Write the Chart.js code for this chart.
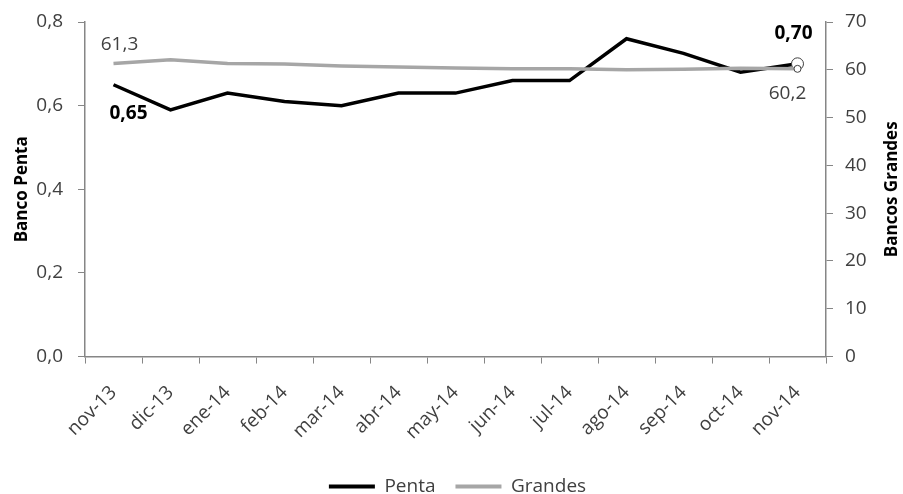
<!DOCTYPE html>
<html>
<head>
<meta charset="utf-8">
<script src="https://cdn.jsdelivr.net/npm/chart.js@4.4.1/dist/chart.umd.min.js"></script>
<style>
  html, body { margin: 0; padding: 0; background: #fff; }
  #wrap { width: 903px; height: 494px; }
</style>
</head>
<body>
<div id="wrap"><canvas id="chart" width="903" height="494"></canvas></div>
<script>
// Categories (months)
const months = ["nov-13", "dic-13", "ene-14", "feb-14", "mar-14", "abr-14", "may-14",
  "jun-14", "jul-14", "ago-14", "sep-14", "oct-14", "nov-14"];

// Banco Penta (left axis)
const penta = [0.65, 0.59, 0.63, 0.61, 0.60, 0.63, 0.63, 0.66, 0.66, 0.76, 0.725, 0.68, 0.70];

// Bancos Grandes (right axis)
const grandes = [61.3, 62.1, 61.3, 61.2, 60.8, 60.6, 60.4, 60.2, 60.2, 60.0, 60.1, 60.3, 60.2];

const leftTicks = [0, 0.2, 0.4, 0.6, 0.8];
const rightTicks = [0, 10, 20, 30, 40, 50, 60, 70];

const FONT = "'Open Sans', sans-serif";
const TXT = "#404040";
const AXIS = "#868686";

const last = months.length - 1;
const comma = (v, d) => v.toFixed(d).replace(".", ",");

// end markers only on the last month
const pentaRadius = penta.map((_, i) => (i === last ? 6 : 0));
const grandesRadius = grandes.map((_, i) => (i === last ? 3.5 : 0));

// value labels on first and last point of each line
const valueLabels = {
  id: "valueLabels",
  afterDatasetsDraw(chart) {
    const ctx = chart.ctx;
    const p = chart.getDatasetMeta(0).data;
    const g = chart.getDatasetMeta(1).data;
    ctx.save();
    ctx.textAlign = "center";
    ctx.textBaseline = "middle";
    ctx.font = "bold 19px " + FONT;
    ctx.fillStyle = "#000";
    ctx.fillText(comma(penta[0], 2), p[0].x + 15, p[0].y + 29);
    ctx.fillText(comma(penta[last], 2), p[last].x - 4, p[last].y - 30);
    ctx.font = "19px " + FONT;
    ctx.fillStyle = TXT;
    ctx.fillText(comma(grandes[0], 1), g[0].x + 6, g[0].y - 19);
    ctx.fillText(comma(grandes[last], 1), g[last].x - 10, g[last].y + 25);

    // right axis title, reading bottom to top like the left one
    const y2 = chart.scales.y2;
    ctx.font = "bold 17px " + FONT;
    ctx.fillStyle = "#000";
    ctx.translate(892, (y2.top + y2.bottom) / 2);
    ctx.rotate(-Math.PI / 2);
    ctx.fillText("Bancos Grandes", 0, 0);
    ctx.restore();
  }
};

new Chart(document.getElementById("chart"), {
  type: "line",
  data: {
    labels: months,
    datasets: [
      {
        label: "Penta",
        data: penta,
        yAxisID: "y",
        borderColor: "#000",
        backgroundColor: "#000",
        borderWidth: 3.5,
        tension: 0,
        pointRadius: pentaRadius,
        pointBackgroundColor: "#fff",
        pointBorderColor: "#404040",
        pointBorderWidth: 1,
        order: 1
      },
      {
        label: "Grandes",
        data: grandes,
        yAxisID: "y2",
        borderColor: "#a6a6a6",
        backgroundColor: "#a6a6a6",
        borderWidth: 3.5,
        tension: 0,
        pointRadius: grandesRadius,
        pointBackgroundColor: "#fff",
        pointBorderColor: "#404040",
        pointBorderWidth: 1,
        order: 0
      }
    ]
  },
  options: {
    responsive: false,
    animation: false,
    layout: { padding: { left: 12, right: 0, top: 22, bottom: -12 } },
    plugins: {
      tooltip: { enabled: false },
      legend: {
        position: "bottom",
        labels: {
          boxWidth: 46,
          boxHeight: 4,
          padding: 20,
          color: TXT,
          font: { family: FONT, size: 19 },
          generateLabels: (chart) => chart.data.datasets.map((ds, i) => ({
            text: ds.label,
            fillStyle: ds.borderColor,
            strokeStyle: ds.borderColor,
            lineWidth: 0,
            fontColor: TXT,
            datasetIndex: i
          }))
        }
      }
    },
    scales: {
      x: {
        offset: true,
        afterFit: (s) => { s.paddingLeft = 0; s.paddingRight = 0; s.height -= 5; },
        grid: { offset: true, drawOnChartArea: false, drawTicks: true, tickLength: 7, color: AXIS },
        border: { display: true, color: AXIS, width: 1.5 },
        ticks: {
          color: TXT,
          font: { family: FONT, size: 19 },
          minRotation: 45,
          maxRotation: 45,
          padding: 18
        }
      },
      y: {
        position: "left",
        min: 0,
        max: 0.8,
        afterBuildTicks: (s) => { s.ticks = leftTicks.map(v => ({ value: v })); },
        afterFit: (s) => { s.width = 73; s.paddingTop = 0; s.paddingBottom = 0; },
        grid: { drawOnChartArea: false, drawTicks: true, tickLength: 7, color: AXIS },
        border: { display: true, color: AXIS, width: 1.5 },
        ticks: {
          color: TXT,
          font: { family: FONT, size: 19 },
          padding: 15,
          callback: (v) => comma(v, 1)
        },
        title: {
          display: true,
          text: "Banco Penta",
          color: "#000",
          font: { family: FONT, size: 17, weight: "bold" },
          padding: { top: 0, bottom: 4 }
        }
      },
      y2: {
        position: "right",
        min: 0,
        max: 70,
        afterBuildTicks: (s) => { s.ticks = rightTicks.map(v => ({ value: v })); },
        afterFit: (s) => { s.width = 77; s.paddingTop = 0; s.paddingBottom = 0; },
        grid: { drawOnChartArea: false, drawTicks: true, tickLength: 7, color: AXIS },
        border: { display: true, color: AXIS, width: 1.5 },
        ticks: {
          color: TXT,
          font: { family: FONT, size: 19 },
          padding: 12
        },
        title: {
          display: false,
          text: "Bancos Grandes"
        }
      }
    }
  },
  plugins: [valueLabels]
});
</script>
</body>
</html>
